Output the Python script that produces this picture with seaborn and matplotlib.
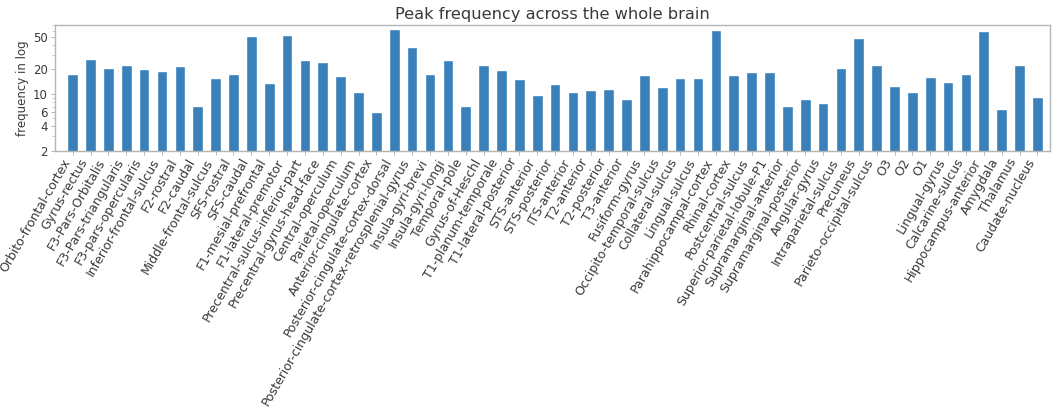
import matplotlib
matplotlib.use("Agg")
import matplotlib.pyplot as plt
import matplotlib.ticker as mticker
import seaborn as sns
import pandas as pd

regions = [
    "Orbito-frontal-cortex", "Gyrus-rectus", "F3-Pars-Orbitalis", "F3-Pars-triangularis",
    "F3-pars-opercularis", "Inferior-frontal-sulcus", "F2-rostral", "F2-caudal",
    "Middle-frontal-sulcus", "SFS-rostral", "SFS-caudal", "F1-mesial-prefrontal",
    "F1-lateral-premotor", "Precentral-sulcus-inferior-part", "Precentral-gyrus-head-face",
    "Central-operculum", "Parietal-operculum", "Anterior-cingulate-cortex",
    "Posterior-cingulate-cortex-dorsal", "Posterior-cingulate-cortex-retrosplenial-gyrus",
    "Insula-gyri-brevi", "Insula-gyri-longi", "Temporal-pole", "Gyrus-of-Heschl",
    "T1-planum-temporale", "T1-lateral-posterior", "STS-anterior", "STS-posterior",
    "ITS-anterior", "T2-anterior", "T2-posterior", "T3-anterior", "Fusiform-gyrus",
    "Occipito-temporal-sulcus", "Collateral-sulcus", "Lingual-sulcus",
    "Parahippocampal-cortex", "Rhinal-cortex", "Postcentral-sulcus",
    "Superior-parietal-lobule-P1", "Supramarginal-anterior", "Supramarginal-posterior",
    "Angular-gyrus", "Intraparietal-sulcus", "Precuneus", "Parieto-occipital-sulcus",
    "O3", "O2", "O1", "Lingual-gyrus", "Calcarine-sulcus", "Hippocampus-anterior",
    "Amygdala", "Thalamus", "Caudate-nucleus",
]

# peak frequency (Hz)
peak_freq = [
    17.7, 26.8, 20.9, 22.8, 20.3, 19.4, 22.3, 7.1, 15.9, 17.7, 51.9, 13.7,
    53.8, 26.2, 25.0, 16.7, 10.7, 6.05, 62.8, 38.3, 17.7, 26.2, 7.1, 22.8,
    19.6, 15.3, 9.7, 13.2, 10.7, 11.2, 11.6, 8.7, 17.3, 12.1, 15.9, 15.9,
    61.1, 17.3, 18.7, 18.7, 7.1, 8.7, 7.7, 20.9, 49.5, 22.8, 12.7, 10.7,
    16.0, 14.2, 17.7, 59.3, 6.6, 22.8, 9.2,
]

y_ticks = [2, 4, 6, 10, 20, 50]

df = pd.DataFrame({"region": regions, "freq": peak_freq})

sns.set_theme(style="ticks")
plt.rcParams["font.family"] = ["DejaVu Sans"]
text_col = "#3a3a3a"
spine_col = "#b5b5b5"

fig, ax = plt.subplots(figsize=(10.54, 4.13), dpi=100)
fig.subplots_adjust(left=0.052, right=0.996, top=0.940, bottom=0.635)

ax.set_yscale("log")
sns.barplot(data=df, x="region", y="freq", color="#3a80ba", saturation=1,
            width=0.6, ax=ax)

ax.set_ylim(2, 71)
ax.set_xlim(-1.0, len(regions) - 1 + 0.69)
ax.yaxis.set_major_locator(mticker.FixedLocator(y_ticks))
ax.yaxis.set_major_formatter(mticker.ScalarFormatter())
ax.yaxis.set_minor_formatter(mticker.NullFormatter())

ax.set_title("Peak frequency across the whole brain", fontsize=11.7, color=text_col, pad=4)
ax.set_xlabel("")
ax.set_ylabel("frequency in log", fontsize=8.5, color=text_col, labelpad=3)

for s in ax.spines.values():
    s.set_color(spine_col)
    s.set_linewidth(1.0)

ax.tick_params(axis="y", labelsize=8.5, colors=text_col, length=3, width=0.7, pad=2)
ax.tick_params(axis="y", which="minor", length=2, width=0.5, color=spine_col)
ax.tick_params(axis="x", labelsize=9, colors=text_col, length=3, width=0.7, pad=1)
ax.tick_params(axis="both", color=spine_col)
plt.setp(ax.get_xticklabels(), rotation=60, ha="right")

fig.savefig("out.png", dpi=100)
